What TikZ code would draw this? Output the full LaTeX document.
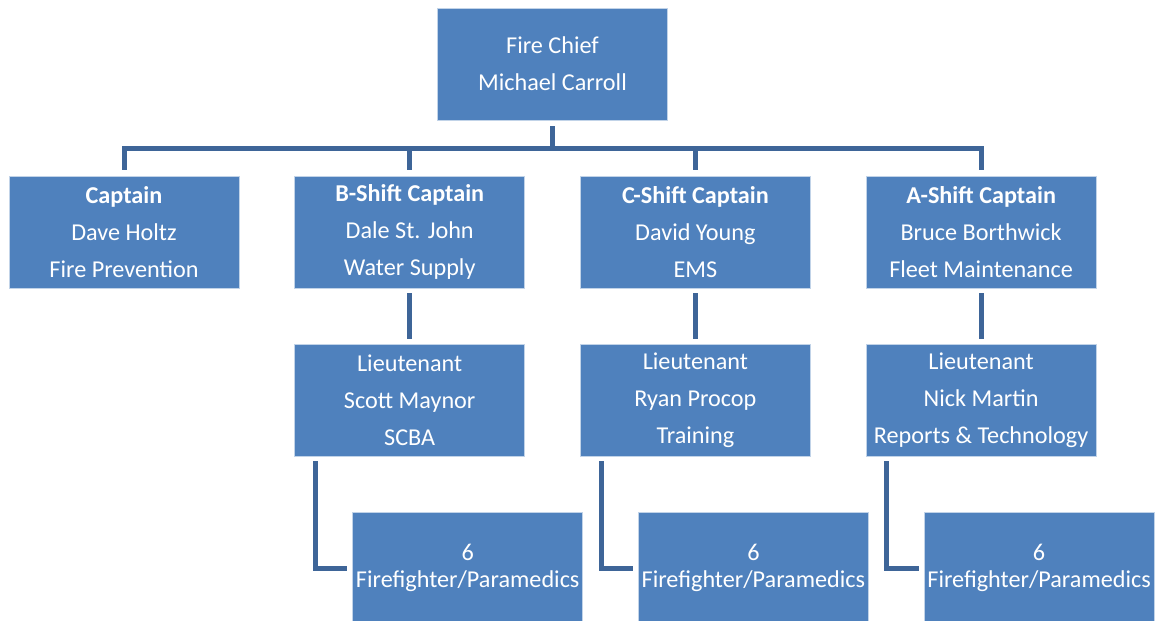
\documentclass[tikz,border=0pt]{standalone}
\usepackage{fontspec}
\setmainfont{Carlito}
\usepackage{xcolor}
\definecolor{boxblue}{HTML}{4F81BD}
\definecolor{linkblue}{HTML}{3E6598}
\usepackage{tikz}
\usetikzlibrary{positioning}
\tikzset{
	rolebox/.style={fill=boxblue, draw=white!65!boxblue, line width=0.8pt, text=white,
	minimum width=230pt, minimum height=112pt, inner sep=0pt, align=center,
	font=\fontsize{24.2}{37}\selectfont}
}
\tikzset{
	crewbox/.style={rolebox, font=\fontsize{24.2}{27}\selectfont}
}
\tikzset{
	link/.style={draw=linkblue, line width=5pt, shorten <=5pt, shorten >=5pt}
}

\begin{document}
\begin{tikzpicture}[x=1pt, y=-1pt]
		\newcommand{\colstep}{285.7}
		\newcommand{\rowstep}{168}
		\newcommand{\crewshift}{58}
		\useasboundingbox (0, 0) rectangle (1160, 621);

		% fire chief
		\node[rolebox] (chief) at (552.5, 64) {Fire Chief\\Michael Carroll};

		% captains
		\node[rolebox] (cap) at (124 + 0 * \colstep, 64 + 1 * \rowstep) {\textbf{Captain}\\Dave Holtz\\Fire Prevention};
		\node[rolebox] (capB) at (124 + 1 * \colstep, 64 + 1 * \rowstep) {\textbf{B-Shift Captain}\\Dale St. John\\Water Supply};
		\node[rolebox] (capC) at (124 + 2 * \colstep, 64 + 1 * \rowstep) {\textbf{C-Shift Captain}\\David Young\\EMS};
		\node[rolebox] (capA) at (124 + 3 * \colstep, 64 + 1 * \rowstep) {\textbf{A-Shift Captain}\\Bruce Borthwick\\Fleet Maintenance};

		% lieutenants
		\node[rolebox] (ltB) at (124 + 1 * \colstep, 64 + 2 * \rowstep) {Lieutenant\\Scott Maynor\\SCBA};
		\node[rolebox] (ltC) at (124 + 2 * \colstep, 64 + 2 * \rowstep) {Lieutenant\\Ryan Procop\\Training};
		\node[rolebox] (ltA) at (124 + 3 * \colstep, 64 + 2 * \rowstep) {Lieutenant\\Nick Martin\\Reports \& Technology};

		% crews
		\node[crewbox] (crewB) at (124 + 1 * \colstep + \crewshift, 64 + 3 * \rowstep) {6\\Firefighter/Paramedics};
		\node[crewbox] (crewC) at (124 + 2 * \colstep + \crewshift, 64 + 3 * \rowstep) {6\\Firefighter/Paramedics};
		\node[crewbox] (crewA) at (124 + 3 * \colstep + \crewshift, 64 + 3 * \rowstep) {6\\Firefighter/Paramedics};

		% chief to captains
		\draw[link, shorten <=6pt, shorten >=6pt] (chief.south) -- ++(0, 28) -| (cap.north);
		\draw[link, shorten <=6pt, shorten >=6pt] (chief.south) -- ++(0, 28) -| (capB.north);
		\draw[link, shorten <=6pt, shorten >=6pt] (chief.south) -- ++(0, 28) -| (capC.north);
		\draw[link, shorten <=6pt, shorten >=6pt] (chief.south) -- ++(0, 28) -| (capA.north);

		% captains to lieutenants
		\draw[link] (capB) -- (ltB);
		\draw[link] (capC) -- (ltC);
		\draw[link] (capA) -- (ltA);

		% lieutenants to crews
		\draw[link] ([xshift=21pt]ltB.south west) |- (crewB.west);
		\draw[link] ([xshift=21pt]ltC.south west) |- (crewC.west);
		\draw[link] ([xshift=21pt]ltA.south west) |- (crewA.west);

	\end{tikzpicture}
\end{document}
